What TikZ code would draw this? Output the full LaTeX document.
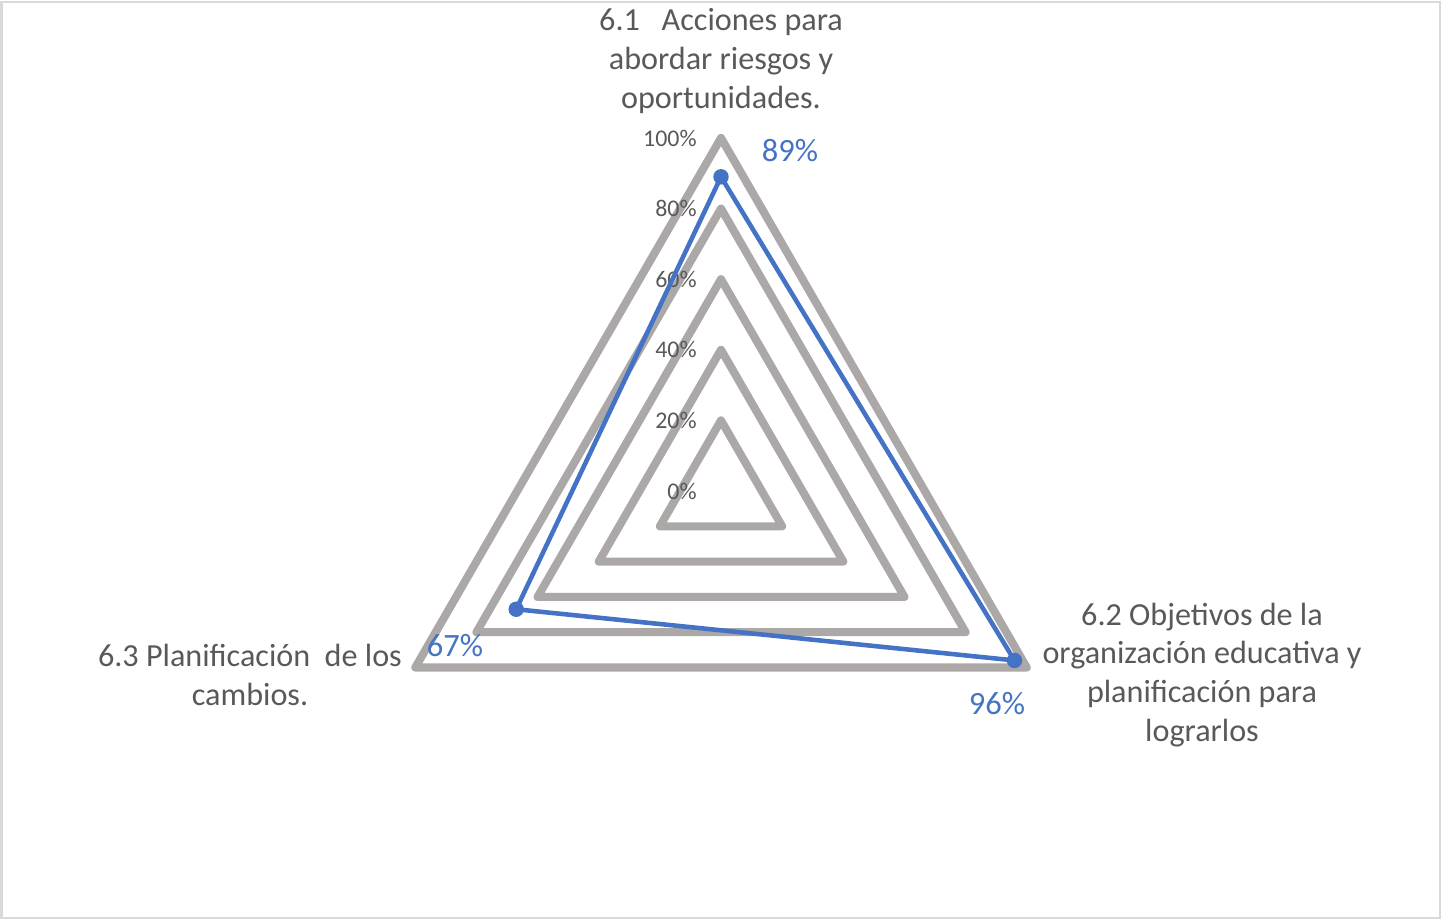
\documentclass[tikz,border=0pt]{standalone}
\usepackage{fontspec}
\setmainfont{Carlito}
\usetikzlibrary{calc}
\definecolor{ringgray}{HTML}{ABA8A7}
\definecolor{serieblue}{HTML}{4472C4}
\definecolor{textgray}{HTML}{595959}
\definecolor{framegray}{HTML}{D9D9D9}
\tikzset{>=latex,
    ring/.style={ringgray, line width=4.6pt, line join=round},
    serie/.style={serieblue, line width=2.6pt, line join=round},
    ticklabel/.style={textgray, anchor=east, inner sep=0pt, font=\fontsize{13.6}{15}\selectfont},
    catlabel/.style={textgray, align=center, inner sep=0pt, font=\fontsize{18.3}{22.1}\selectfont},
    vallabel/.style={serieblue, inner sep=0pt, font=\fontsize{18.5}{21}\selectfont}}

\begin{document}
\begin{tikzpicture}[x=0.02cm, y=0.02cm]
    \useasboundingbox (0,0) rectangle (1442,920);
    \draw [framegray, line width=1.2pt] (1.5,2) rectangle (1440,918);

    % centre of the chart, 100% = 353
    \coordinate (c) at (721,429);

    % rings 20% .. 100%
    \foreach \k in {1,...,5} {
        \draw [ring] ($(c)+(90:70.6*\k)$) -- ($(c)+(210:70.6*\k)$) -- ($(c)+(330:70.6*\k)$) -- cycle;
    }

    % tick labels
    \foreach \k/\t in {0/0\%,1/20\%,2/40\%,3/60\%,4/80\%,5/100\%} {
        \node [ticklabel] (tick\k) at ($(c)+(-24,70.6*\k)$) {\t};
    }

    % data points
    \coordinate (p1) at ($(c)+(90:0.89*353)$);
    \coordinate (p2) at ($(c)+(330:0.96*353)$);
    \coordinate (p3) at ($(c)+(210:0.67*353)$);
    \draw [serie] (p1) -- (p2) -- (p3) -- cycle;
    \foreach \p in {p1,p2,p3} {
        \fill [serieblue] (\p) circle (4.4pt);
    }

    \node [vallabel] (v1) at (790,769) {89\%};
    \node [vallabel] (v2) at (997,216) {96\%};
    \node [vallabel] (v3) at (455,274) {67\%};

    % category labels
    \node [catlabel] (cat1) at (721,859) {6.1\ \ \ Acciones para\\abordar riesgos y\\oportunidades.};
    \node [catlabel] (cat2) at (1202,245) {6.2 Objetivos de la\\organización educativa y\\planificación para\\lograrlos};
    \node [catlabel] (cat3) at (250,245) {6.3 Planificación\ \ de los\\cambios.};
\end{tikzpicture}
\end{document}
